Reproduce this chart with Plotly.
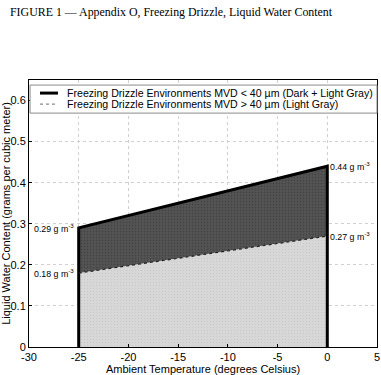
import plotly.graph_objects as go

temps = [-25, 0]
lwc_upper = [0.29, 0.44]   # MVD < 40 um (dark + light gray)
lwc_lower = [0.18, 0.27]   # MVD > 40 um (light gray)
x_ticks = [-30, -25, -20, -15, -10, -5, 0, 5]
y_ticks = [0, 0.1, 0.2, 0.3, 0.4, 0.5, 0.6]
legend_labels = ["Freezing Drizzle Environments MVD < 40 \u00b5m (Dark + Light Gray)",
                 "Freezing Drizzle Environments MVD > 40 \u00b5m (Light Gray)"]

fig = go.Figure()
fig.add_trace(go.Scatter(x=[temps[0], temps[0], temps[1], temps[1]],
                         y=[0, lwc_lower[0], lwc_lower[1], 0],
                         fill="toself", fillcolor="#d4d4d4", mode="lines",
                         fillpattern=dict(shape=".", bgcolor="#d8d8d8", fgcolor="#bcbcbc",
                                          size=3, solidity=0.2),
                         line=dict(width=0), showlegend=False, hoverinfo="skip"))
fig.add_trace(go.Scatter(x=[temps[0], temps[0], temps[1], temps[1]],
                         y=[lwc_lower[0], lwc_upper[0], lwc_upper[1], lwc_lower[1]],
                         fill="toself", fillcolor="#525252", mode="lines",
                         fillpattern=dict(shape=".", bgcolor="#555555", fgcolor="#333333",
                                          size=3, solidity=0.3),
                         line=dict(width=0), showlegend=False, hoverinfo="skip"))
fig.add_trace(go.Scatter(x=[temps[0], temps[0], temps[1], temps[1]],
                         y=[0, lwc_upper[0], lwc_upper[1], 0],
                         mode="lines", line=dict(color="black", width=3),
                         showlegend=False, hoverinfo="skip"))
fig.add_trace(go.Scatter(x=temps, y=lwc_lower, mode="lines",
                         line=dict(color="#222222", width=1.2, dash="dot"),
                         showlegend=False, hoverinfo="skip"))

ann_font = dict(family="Arial, Liberation Sans", size=8.8, color="black")
for x, y, xa in [(temps[0], lwc_upper[0], "right"), (temps[0], lwc_lower[0], "right"),
                 (temps[1], lwc_upper[1], "left"), (temps[1], lwc_lower[1], "left")]:
    fig.add_annotation(x=x, y=y, text=f"{y:.2f} g m<sup>-3</sup>", showarrow=False,
                       xanchor=xa, yanchor="middle", xshift=-3 if xa == "right" else 1,
                       font=ann_font)

# manual legend (compact, like the original)
fig.add_shape(type="rect", xref="paper", yref="paper", x0=0.003, x1=1.0, y0=0.876, y1=0.981,
              line=dict(color="#8a8a8a", width=1), fillcolor="white", layer="above")
leg_y = [0.951, 0.910]
leg_styles = [dict(color="black", width=3), dict(color="#8a8a8a", width=1.2, dash="dot")]
for yy, st, lab in zip(leg_y, leg_styles, legend_labels):
    fig.add_shape(type="line", xref="paper", yref="paper", x0=0.0316, x1=0.0833, y0=yy, y1=yy,
                  line=st, layer="above")
    fig.add_annotation(xref="paper", yref="paper", x=0.1034, y=yy, text=lab, showarrow=False,
                       xanchor="left", yanchor="middle",
                       font=dict(family="Arial, Liberation Sans", size=10.6, color="black"))

fig.add_annotation(xref="paper", yref="paper", x=0, xshift=-21, y=1.0, yshift=68,
                   text="FIGURE 1 \u2014 Appendix O, Freezing Drizzle, Liquid Water Content",
                   showarrow=False, xanchor="left", yanchor="middle",
                   font=dict(family="Liberation Serif, Times New Roman", size=11.9, color="black"))

fig.update_layout(
    width=381, height=375,
    margin=dict(l=29, r=4, t=80, b=28),
    paper_bgcolor="white", plot_bgcolor="white",
    font=dict(family="Arial, Liberation Sans", size=11, color="black"),
    showlegend=False,
    xaxis=dict(range=[-30, 5], tickvals=x_ticks, ticktext=[str(v) for v in x_ticks],
               showgrid=True, gridcolor="#d0d0d0",
               griddash="dot", gridwidth=1, zeroline=False, showline=True, linecolor="black",
               mirror=True, ticks="inside", ticklen=3, tickcolor="black", automargin=False,
               title=dict(text="Ambient Temperature (degrees Celsius)", standoff=0,
                          font=dict(size=11)),
               tickfont=dict(size=11)),
    yaxis=dict(range=[0, 0.65], tickvals=y_ticks, ticktext=[str(v) for v in y_ticks],
               showgrid=True, gridcolor="#d0d0d0",
               griddash="dot", gridwidth=1, zeroline=False, showline=True, linecolor="black",
               mirror=True, ticks="inside", ticklen=3, tickcolor="black", automargin=False,
               title=dict(text="Liquid Water Content (grams per cubic meter)", standoff=0,
                          font=dict(size=11)),
               tickfont=dict(size=11)),
)
fig.write_html("out.html", config={"displayModeBar": False},
               post_script="document.body.style.margin='0';document.body.style.overflow='hidden';")
